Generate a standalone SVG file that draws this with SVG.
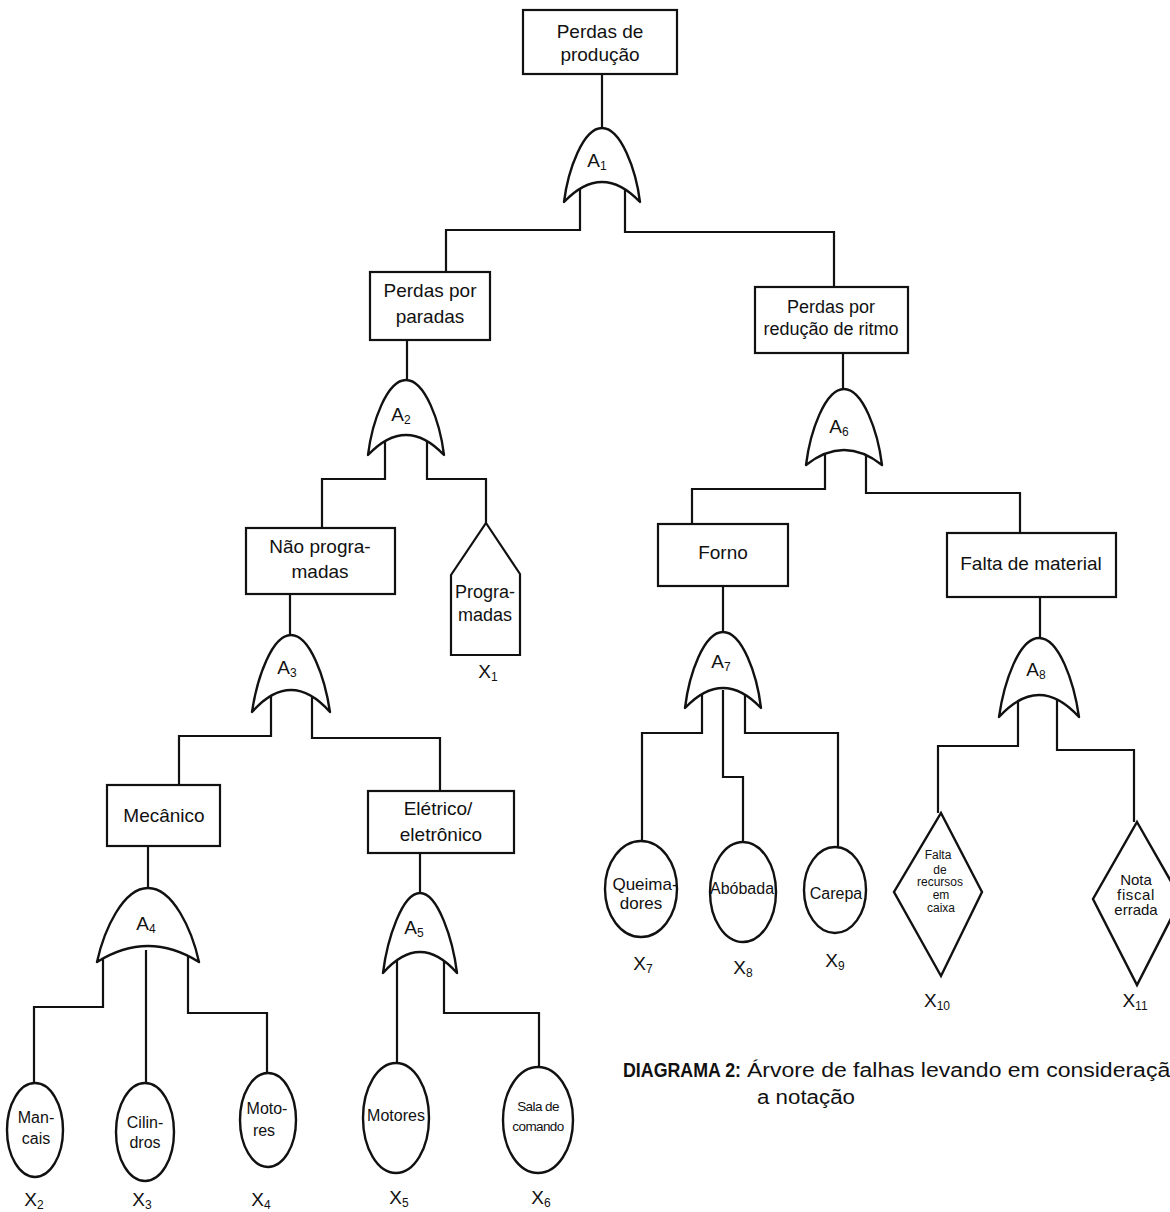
<svg xmlns="http://www.w3.org/2000/svg" width="1170" height="1212" viewBox="0 0 1170 1212">
<style>
text{font-family:"Liberation Sans",Arial,sans-serif;fill:#111;text-anchor:middle}
.box{fill:#fff;stroke:#111;stroke-width:2.2}
.gate{fill:#fff;stroke:#111;stroke-width:2.4;stroke-linejoin:round}
.ev{fill:#fff;stroke:#111;stroke-width:2.4}
.conn path{fill:none;stroke:#111;stroke-width:2.2}
.t19{font-size:19px}
.t18{font-size:18px}
.t16{font-size:16px}
.lab{font-size:19px}
.sub{font-size:12px}
.dia{font-size:12px}
.nota{font-size:15px}
.sala{font-size:13.5px;letter-spacing:-0.6px}
.cap{text-anchor:start;font-size:20px}
</style>
<rect width="1170" height="1212" fill="#fff"/>
<g class="conn" id="connectors">
<path d="M602,74V130"/>
<path d="M580,185V230H446V272"/>
<path d="M625,185V232H834V287"/>
<path d="M407,340V382"/>
<path d="M385,440V479H322V528"/>
<path d="M427,440V479H486V523"/>
<path d="M290,594V637"/>
<path d="M271,695V736H179V785"/>
<path d="M312,695V738H440V791"/>
<path d="M148,846V890"/>
<path d="M103,955V1007H34V1083"/>
<path d="M146,950V1083"/>
<path d="M188,955V1013H267V1073"/>
<path d="M420,853V895"/>
<path d="M397,955V1063"/>
<path d="M444,955V1013H539V1067"/>
<path d="M843,353V391"/>
<path d="M825,452V489H692V524"/>
<path d="M866,452V493H1020V533"/>
<path d="M723,586V634"/>
<path d="M702,690V733H642V842"/>
<path d="M723,690V777H743V842"/>
<path d="M745,690V733H838V847"/>
<path d="M1040,597V640"/>
<path d="M1018,700V746H938V813"/>
<path d="M1057,700V750H1134V822"/>
</g>

<g id="top-event">
<rect class="box" x="523" y="10" width="154" height="64"/>
<text class="t19" x="600" y="38">Perdas de</text>
<text class="t19" x="600" y="61">produção</text>
</g>

<g id="gate-A1">
<path class="gate" d="M602,128C583,128 568,170 564,202Q602,162 640,202C636,170 621,128 602,128Z"/>
<text class="lab" x="597" y="167">A<tspan class="sub" dy="3">1</tspan></text>
</g>

<g id="perdas-paradas">
<rect class="box" x="370" y="272" width="120" height="68"/>
<text class="t19" x="430" y="297">Perdas por</text>
<text class="t19" x="430" y="323">paradas</text>
</g>

<g id="perdas-reducao">
<rect class="box" x="755" y="287" width="153" height="66"/>
<text class="t18" x="831" y="313">Perdas por</text>
<text class="t18" x="831" y="335">redução de ritmo</text>
</g>

<g id="gate-A2">
<path class="gate" d="M406,380C387,380 372,422 368,455Q406,415 444,455C440,422 425,380 406,380Z"/>
<text class="lab" x="401" y="421">A<tspan class="sub" dy="3">2</tspan></text>
</g>

<g id="gate-A6">
<path class="gate" d="M844,389C825,389 810,432 806,465Q844,435 882,465C878,432 863,389 844,389Z"/>
<text class="lab" x="839" y="433">A<tspan class="sub" dy="3">6</tspan></text>
</g>

<g id="nao-programadas">
<rect class="box" x="246" y="528" width="149" height="66"/>
<text class="t19" x="320" y="553">Não progra-</text>
<text class="t19" x="320" y="578">madas</text>
</g>

<g id="programadas">
<path class="box" d="M486,523L520,574V655H451V575Z"/>
<text class="t18" x="485" y="598">Progra-</text>
<text class="t18" x="485" y="621">madas</text>
<text class="lab" x="488" y="678">X<tspan class="sub" dy="3">1</tspan></text>
</g>

<g id="forno">
<rect class="box" x="658" y="524" width="130" height="62"/>
<text class="t19" x="723" y="559">Forno</text>
</g>

<g id="falta-material">
<rect class="box" x="947" y="533" width="169" height="64"/>
<text class="t19" x="1031" y="570">Falta de material</text>
</g>

<g id="gate-A3">
<path class="gate" d="M291,635C272,635 257,678 252,712Q291,668 330,712C325,678 310,635 291,635Z"/>
<text class="lab" x="287" y="674">A<tspan class="sub" dy="3">3</tspan></text>
</g>

<g id="gate-A7">
<path class="gate" d="M723,632C704,632 689,674 685,708Q723,668 761,708C757,674 742,632 723,632Z"/>
<text class="lab" x="721" y="668">A<tspan class="sub" dy="3">7</tspan></text>
</g>

<g id="gate-A8">
<path class="gate" d="M1039,638C1019,638 1004,682 999,717Q1039,673 1079,717C1074,682 1059,638 1039,638Z"/>
<text class="lab" x="1036" y="676">A<tspan class="sub" dy="3">8</tspan></text>
</g>

<g id="mecanico">
<rect class="box" x="107" y="785" width="113" height="61"/>
<text class="t19" x="164" y="822">Mecânico</text>
</g>

<g id="eletrico">
<rect class="box" x="368" y="791" width="146" height="62"/>
<text class="t19" x="438" y="815">Elétrico/</text>
<text class="t19" x="441" y="841">eletrônico</text>
</g>

<g id="gate-A4">
<path class="gate" d="M148,888C123,888 104,930 97,962Q148,930 199,962C192,930 173,888 148,888Z"/>
<text class="lab" x="146" y="930">A<tspan class="sub" dy="3">4</tspan></text>
</g>

<g id="gate-A5">
<path class="gate" d="M420,893C402,893 387,940 383,973Q420,931 457,973C453,940 438,893 420,893Z"/>
<text class="lab" x="414" y="934">A<tspan class="sub" dy="3">5</tspan></text>
</g>

<g id="queimadores">
<ellipse class="ev" cx="641" cy="889" rx="36" ry="48"/>
<text x="645" y="890" style="font-size:17px">Queima-</text>
<text x="641" y="909" style="font-size:17px">dores</text>
<text class="lab" x="643" y="970">X<tspan class="sub" dy="3">7</tspan></text>
</g>

<g id="abobada">
<ellipse class="ev" cx="743" cy="892" rx="33" ry="50"/>
<text class="t16" x="742" y="894">Abóbada</text>
<text class="lab" x="743" y="974">X<tspan class="sub" dy="3">8</tspan></text>
</g>

<g id="carepa">
<ellipse class="ev" cx="835" cy="890" rx="31" ry="43"/>
<text class="t16" x="836" y="899">Carepa</text>
<text class="lab" x="835" y="967">X<tspan class="sub" dy="3">9</tspan></text>
</g>

<g id="falta-recursos">
<path class="ev" d="M941,813L982,892L941,976L894,892Z"/>
<text class="dia" x="938" y="859">Falta</text>
<text class="dia" x="940" y="874">de</text>
<text class="dia" x="940" y="886">recursos</text>
<text class="dia" x="941" y="899">em</text>
<text class="dia" x="941" y="912">caixa</text>
<text class="lab" x="937" y="1007">X<tspan class="sub" dy="3">10</tspan></text>
</g>

<g id="nota-fiscal">
<path class="ev" d="M1137,822L1181,899L1137,985L1093,899Z"/>
<text class="nota" x="1136" y="885">Nota</text>
<text class="nota" x="1136" y="900" style="letter-spacing:0.6px">fiscal</text>
<text class="nota" x="1136" y="915">errada</text>
<text class="lab" x="1135" y="1007">X<tspan class="sub" dy="3">11</tspan></text>
</g>

<g id="mancais">
<ellipse class="ev" cx="35" cy="1130" rx="28" ry="47"/>
<text class="t16" x="36" y="1123">Man-</text>
<text class="t16" x="36" y="1144">cais</text>
<text class="lab" x="34" y="1206">X<tspan class="sub" dy="3">2</tspan></text>
</g>

<g id="cilindros">
<ellipse class="ev" cx="145" cy="1132" rx="29" ry="49"/>
<text class="t16" x="145" y="1128">Cilin-</text>
<text class="t16" x="145" y="1148">dros</text>
<text class="lab" x="142" y="1206">X<tspan class="sub" dy="3">3</tspan></text>
</g>

<g id="motores-x4">
<ellipse class="ev" cx="268" cy="1120" rx="28" ry="47"/>
<text class="t16" x="267" y="1114">Moto-</text>
<text class="t16" x="264" y="1136">res</text>
<text class="lab" x="261" y="1206">X<tspan class="sub" dy="3">4</tspan></text>
</g>

<g id="motores-x5">
<ellipse class="ev" cx="396" cy="1118" rx="33" ry="55"/>
<text class="t16" x="396" y="1121">Motores</text>
<text class="lab" x="399" y="1204">X<tspan class="sub" dy="3">5</tspan></text>
</g>

<g id="sala-comando">
<ellipse class="ev" cx="538" cy="1120" rx="35" ry="53"/>
<text class="sala" x="538" y="1111">Sala de</text>
<text class="sala" x="538" y="1131">comando</text>
<text class="lab" x="541" y="1204">X<tspan class="sub" dy="3">6</tspan></text>
</g>

<g id="caption">
<text class="cap" x="623" y="1077" style="font-weight:bold" textLength="118" lengthAdjust="spacingAndGlyphs">DIAGRAMA 2:</text>
<text class="cap" x="747" y="1077" textLength="436" lengthAdjust="spacingAndGlyphs">Árvore de falhas levando em consideração</text>
<text class="cap" x="757" y="1104" textLength="98" lengthAdjust="spacingAndGlyphs">a notação</text>
</g>
</svg>
